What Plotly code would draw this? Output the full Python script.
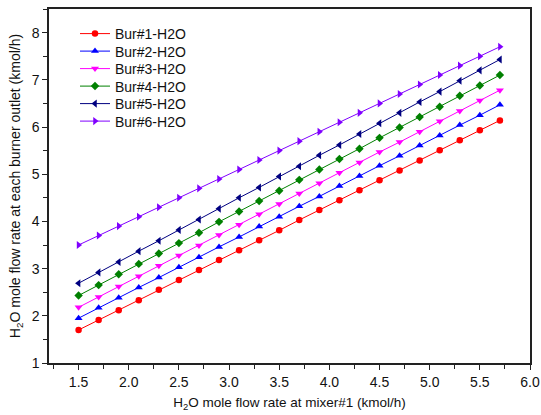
import plotly.graph_objects as go

# H2O feed at mixer#1 (kmol/h)
mixer_h2o = [1.5, 1.7, 1.9, 2.1, 2.3, 2.5, 2.7, 2.9, 3.1, 3.3, 3.5,
             3.7, 3.9, 4.1, 4.3, 4.5, 4.7, 4.9, 5.1, 5.3, 5.5, 5.7]

# H2O at each burner outlet (kmol/h)
bur1 = [1.70, 1.91, 2.12, 2.33, 2.55, 2.76, 2.97, 3.18, 3.39, 3.60, 3.81,
        4.03, 4.24, 4.45, 4.66, 4.87, 5.08, 5.29, 5.51, 5.72, 5.93, 6.14]
bur2 = [1.95, 2.17, 2.38, 2.60, 2.81, 3.03, 3.24, 3.46, 3.67, 3.89, 4.10,
        4.32, 4.53, 4.75, 4.96, 5.18, 5.39, 5.61, 5.82, 6.04, 6.25, 6.47]
bur3 = [2.18, 2.40, 2.62, 2.84, 3.06, 3.28, 3.49, 3.71, 3.93, 4.15, 4.37,
        4.59, 4.81, 5.03, 5.25, 5.47, 5.68, 5.90, 6.12, 6.34, 6.56, 6.78]
bur4 = [2.43, 2.65, 2.88, 3.10, 3.32, 3.54, 3.76, 3.99, 4.21, 4.43, 4.65,
        4.88, 5.10, 5.32, 5.54, 5.77, 5.99, 6.21, 6.43, 6.66, 6.88, 7.10]
bur5 = [2.69, 2.92, 3.14, 3.37, 3.59, 3.82, 4.04, 4.27, 4.50, 4.72, 4.95,
        5.17, 5.40, 5.62, 5.85, 6.08, 6.30, 6.53, 6.75, 6.98, 7.20, 7.43]
bur6 = [3.50, 3.70, 3.90, 4.10, 4.30, 4.50, 4.70, 4.90, 5.10, 5.30, 5.50,
        5.70, 5.90, 6.10, 6.30, 6.50, 6.70, 6.90, 7.10, 7.30, 7.50, 7.70]

series_names = ["Bur#1-H2O", "Bur#2-H2O", "Bur#3-H2O",
                "Bur#4-H2O", "Bur#5-H2O", "Bur#6-H2O"]
series_values = [bur1, bur2, bur3, bur4, bur5, bur6]
colors = ["#FF0000", "#0000FF", "#FF00FF", "#008000", "#000080", "#8000FF"]
symbols = ["circle", "triangle-up", "triangle-down", "diamond",
           "triangle-left", "triangle-right"]
marker_sizes = [6.5, 7, 7, 6.5, 7, 7]

FONT = "Liberation Sans, Arial, sans-serif"

# Figure geometry (pixels)
W, H = 541, 415
ML, MR, MT, MB = 49, 11, 9, 52
plot_w = W - ML - MR
plot_h = H - MT - MB

fig = go.Figure()
legend_ids = ["legend"] + [f"legend{i}" for i in range(2, 7)]
for name, vals, col, sym, ms, lid in zip(series_names, series_values, colors,
                                         symbols, marker_sizes, legend_ids):
    fig.add_trace(go.Scatter(
        x=mixer_h2o, y=vals, name=name, mode="lines+markers",
        line=dict(color=col, width=1),
        marker=dict(color=col, symbol=sym, size=ms, line=dict(width=0)),
        legend=lid,
    ))

# One compact legend box per series so rows sit close together
legend_rows = {}
for k, lid in enumerate(legend_ids):
    row_center_px = 34 + 17.5 * k
    legend_rows[lid] = dict(
        x=(75 - ML) / plot_w, y=(H - MB - row_center_px) / plot_h,
        xanchor="left", yanchor="middle",
        bgcolor="rgba(0,0,0,0)", borderwidth=0,
        font=dict(family=FONT, size=14, color="#111111"),
        itemwidth=30,
    )

axis_common = dict(
    showgrid=False, zeroline=False, showline=True, mirror=True,
    linecolor="#222222", linewidth=1.5,
    ticks="outside", ticklen=5, tickwidth=1.2, tickcolor="#222222",
    tickfont=dict(family=FONT, size=14, color="#111111"),
)

fig.update_layout(
    width=W, height=H,
    margin=dict(l=ML, r=MR, t=MT, b=MB, autoexpand=False),
    paper_bgcolor="white", plot_bgcolor="white",
    font=dict(family=FONT, color="#111111"),
    xaxis=dict(
        range=[1.205, 6.0], tickmode="array",
        tickvals=[1.5, 2.0, 2.5, 3.0, 3.5, 4.0, 4.5, 5.0, 5.5, 6.0],
        ticktext=["1.5", "2.0", "2.5", "3.0", "3.5", "4.0", "4.5", "5.0", "5.5", "6.0"],
        title=dict(text="H<sub>2</sub>O mole flow rate at mixer#1 (kmol/h)",
                   font=dict(family=FONT, size=13.5), standoff=9),
        minor=dict(ticks="outside", ticklen=4, tickwidth=1.2, tickcolor="#222222",
                   tickvals=[1.25, 1.75, 2.25, 2.75, 3.25, 3.75, 4.25, 4.75, 5.25, 5.75]),
        **axis_common,
    ),
    yaxis=dict(
        range=[1, 8.5], tickmode="array", tickvals=[1, 2, 3, 4, 5, 6, 7, 8],
        title=dict(text="H<sub>2</sub>O mole flow rate at each burner outlet (kmol/h)",
                   font=dict(family=FONT, size=14), standoff=8),
        minor=dict(ticks="outside", ticklen=4, tickwidth=1.2, tickcolor="#222222",
                   tickvals=[1.5, 2.5, 3.5, 4.5, 5.5, 6.5, 7.5, 8.5]),
        **axis_common,
    ),
    showlegend=True,
    **legend_rows,
)

fig.write_html("out.html")
